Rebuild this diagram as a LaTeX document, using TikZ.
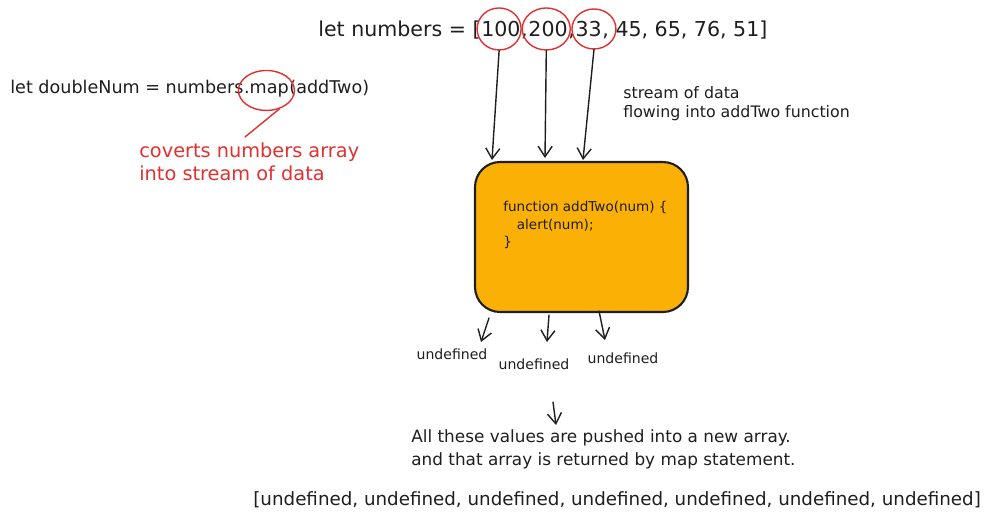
\documentclass[tikz,border=0pt]{standalone}
\usepackage{fontspec}
\setmainfont{DejaVu Sans}
\usetikzlibrary{arrows.meta,shapes.geometric}
\definecolor{boxfill}{RGB}{250,176,5}
\definecolor{inkred}{RGB}{224,49,49}
\definecolor{ink}{RGB}{30,30,30}
\tikzset{
	ring/.style={draw=inkred, thick, ellipse, inner sep=0pt},
	fnbox/.style={draw=ink, very thick, fill=boxfill, rounded corners=0.5cm, minimum width=4.26cm, minimum height=3cm},
	txt/.style={anchor=west, text=ink, inner sep=0pt, align=left},
	piece/.style={anchor=base west, text=ink, inner sep=0pt},
	outval/.style={text=ink, font=\fontsize{8}{10}\selectfont}
}
\begin{document}
\begin{tikzpicture}[x=0.02cm, y=-0.02cm, >={Straight Barb[length=6pt,width=8pt]}, line join=round, line cap=round, font=\fontsize{11.7}{14}\selectfont]
	\useasboundingbox (0,0) rectangle (998,525);
	% the array, piece by piece
	\node[txt] (numbers) at (318,30) {let numbers = [};
	\node[piece] (n100) at (numbers.base east) {100};
	\node[piece] (c1) at (n100.base east) {,\ };
	\node[piece] (n200) at (c1.base east) {200};
	\node[piece] (c2) at (n200.base east) {,\ };
	\node[piece] (n33) at (c2.base east) {33};
	\node[piece] (rest) at (n33.base east) {, 45, 65, 76, 51]};
	% the map call
	\node[txt, font=\fontsize{10}{12}\selectfont] (mapcall) at (10,87) {let doubleNum = numbers};
	\node[piece, font=\fontsize{10}{12}\selectfont] (map) at (mapcall.base east) {.map};
	\node[piece, font=\fontsize{10}{12}\selectfont] (arg) at (map.base east) {(addTwo)};
	\node[txt, text=inkred, font=\fontsize{11}{13}\selectfont] (convert) at (139,161.5) {coverts numbers array\\into stream of data};
	\node[txt, font=\fontsize{9}{10.8}\selectfont] (stream) at (623,103.5) {stream of data\\flowing into addTwo function};
	% rings
	\node[ring, minimum width=0.88cm, minimum height=0.84cm] (r100) at ([xshift=-1pt]n100.center) {};
	\node[ring, minimum width=0.96cm, minimum height=0.84cm] (r200) at ([xshift=-1pt]n200.center) {};
	\node[ring, minimum width=0.88cm, minimum height=0.8cm] (r33) at ([xshift=3pt]n33.center) {};
	\node[ring, minimum width=1.12cm, minimum height=0.8cm] (rmap) at (map.center) {};
	\coordinate (tail) at (245,137);
	\draw[inkred, thick] (rmap.-55) -- (tail);
	% the function box
	\node[fnbox] (fn) at (581.5,237) {};
	\node[txt, font=\fontsize{7.7}{10}\selectfont] (code) at (503,225) {function addTwo(num) \{\\\hspace{1em}alert(num);\\\}};
	\coordinate (in1) at (492,160);
	\coordinate (in2) at (545,158);
	\coordinate (in3) at (583,160);
	\draw[->, ink, thick] (r100.south) -- (in1);
	\draw[->, ink, thick] (r200.south) -- (in2);
	\draw[->, ink, thick] (r33.south) -- (in3);
	% values coming out
	\node[outval] (u1) at (452,354) {undefined};
	\node[outval] (u2) at (534,364) {undefined};
	\node[outval] (u3) at (623,358) {undefined};
	\coordinate (o1) at (489,318);
	\coordinate (o2) at (549,315);
	\coordinate (o3) at (599,311);
	\coordinate (e1) at (481,342);
	\coordinate (e2) at (547,342);
	\coordinate (e3) at (605,340);
	\draw[->, ink, thick] (o1) -- (e1);
	\draw[->, ink, thick] (o2) -- (e2);
	\draw[->, ink, thick] (o3) -- (e3);
	\node[txt, font=\fontsize{9.6}{13}\selectfont] (pushed) at (411,449.5) {All these values are pushed into a new array.\\and that array is returned by map statement.};
	\coordinate (down) at (553,402);
	\coordinate (downend) at (556,425);
	\draw[->, ink, thick] (down) -- (downend);
	\node[txt, font=\fontsize{10.4}{12}\selectfont] (result) at (253,500) {[undefined, undefined, undefined, undefined, undefined, undefined, undefined]};
\end{tikzpicture}
\end{document}
